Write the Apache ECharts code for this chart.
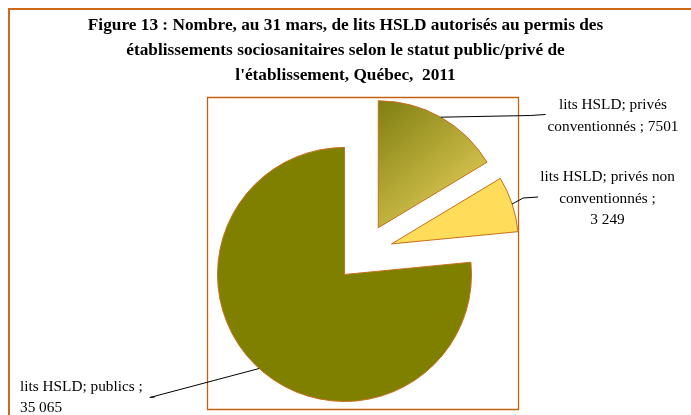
<!DOCTYPE html>
<html>
<head>
<meta charset="utf-8">
<script src="https://cdn.jsdelivr.net/npm/echarts@6/dist/echarts.min.js"></script>
<style>
html,body{margin:0;padding:0;background:#fff;}
#chart{width:691px;height:415px;}
</style>
</head>
<body>
<div id="chart"></div>
<script>
const titleText = "Figure 13 : Nombre, au 31 mars, de lits HSLD autorisés au permis des\nétablissements sociosanitaires selon le statut public/privé de\nl'établissement, Québec,  2011";
const categories = ["lits HSLD; privés conventionnés", "lits HSLD; privés non conventionnés", "lits HSLD; publics"];
const values = [7501, 3249, 35065];
const labelTexts = ["lits HSLD; privés\nconventionnés ; 7501", "lits HSLD; privés non\nconventionnés ;\n3 249", "lits HSLD; publics ;\n35 065"];

const SERIF = "'Liberation Serif','Times New Roman',serif";
const LABEL_SIZE = 15.3;
const chart = echarts.init(document.getElementById('chart'), null, {renderer: 'canvas'});

const CENTER = [364, 253];
const RADIUS = 127;
const OFFSET = 29;

const sliceColors = [
  new echarts.graphic.LinearGradient(0, 0, 1, 1, [
    {offset: 0, color: '#7e7e10'},
    {offset: 1, color: '#f2d862'}
  ]),
  '#ffdc5a',
  '#808000'
];

// label anchor layout
const labelPos = [
  {x: 613, y: 116, align: 'center'},
  {x: 607.5, y: 198.5, align: 'center'},
  {x: 20, y: 397.5, align: 'left'}
];

// measure label widths
const ctx = document.createElement('canvas').getContext('2d');
ctx.font = LABEL_SIZE + 'px ' + SERIF;
function blockWidth(t) {
  return Math.max.apply(null, t.split('\n').map(function (s) { return ctx.measureText(s).width; }));
}

// leader lines: start at each slice's outer edge at its mid-angle (derived from the data)
const total = values.reduce(function (a, b) { return a + b; }, 0);
let cum = 0;
const graphics = [
  {type: 'rect', shape: {x: 9, y: 9, width: 700, height: 420}, style: {fill: 'none', stroke: '#cd6a1c', lineWidth: 2}, silent: true, z: -1},
  {type: 'rect', shape: {x: 207.5, y: 97.5, width: 311, height: 312}, style: {fill: 'none', stroke: '#c4620f', lineWidth: 1.3}, silent: true, z: -1}
];
values.forEach(function (v, i) {
  const mid = (90 - 360 * (cum + v / 2) / total) * Math.PI / 180;
  cum += v;
  const rr = RADIUS + OFFSET;
  const start = [CENTER[0] + rr * Math.cos(mid), CENTER[1] - rr * Math.sin(mid)];
  const pos = labelPos[i];
  const w = blockWidth(labelTexts[i]);
  let end, bend;
  if (pos.align === 'center') {
    end = [pos.x - w / 2 - 2, pos.y - 1.5];
    bend = [end[0] - 15, end[1] + 1];
  } else {
    end = [pos.x + w + 12, pos.y - 0.5];
    bend = [end[0] - 5, end[1] + 0.5];
  }
  graphics.push({type: 'polyline', shape: {points: [start, bend, end]}, style: {stroke: '#000', lineWidth: 1, fill: 'none'}, silent: true, z: 10});
  graphics.push({type: 'text', x: pos.x, y: pos.y, style: {text: labelTexts[i], font: LABEL_SIZE + 'px ' + SERIF, fill: '#000', align: pos.align, verticalAlign: 'middle', lineHeight: 21.5}, silent: true, z: 10});
});

chart.setOption({
  animation: false,
  backgroundColor: '#ffffff',
  title: {
    text: titleText,
    left: 'center',
    top: 8,
    textStyle: {fontFamily: SERIF, fontWeight: 'bold', fontSize: 17.3, lineHeight: 25, color: '#000'}
  },
  graphic: graphics,
  series: [{
    type: 'pie',
    center: CENTER,
    radius: RADIUS,
    startAngle: 90,
    clockwise: true,
    avoidLabelOverlap: false,
    selectedMode: 'multiple',
    selectedOffset: OFFSET,
    emphasis: {disabled: true},
    itemStyle: {borderColor: '#c8701e', borderWidth: 1},
    label: {show: false},
    labelLine: {show: false},
    data: values.map(function (v, i) {
      return {value: v, name: categories[i], selected: true, itemStyle: {color: sliceColors[i]}};
    })
  }]
});
</script>
</body>
</html>
